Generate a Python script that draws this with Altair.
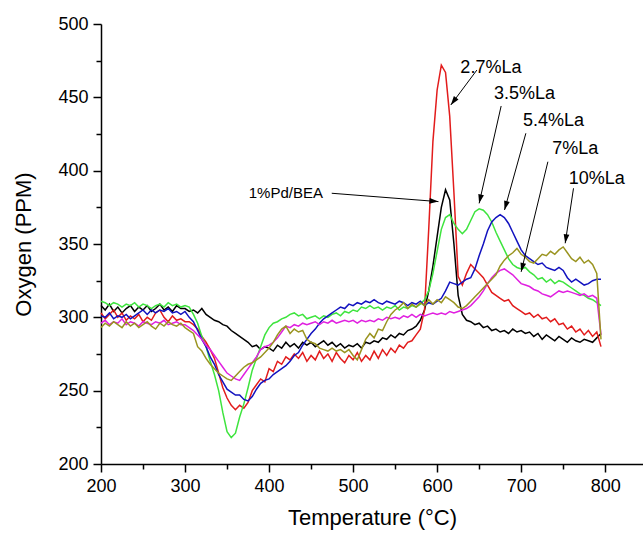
import math
import altair as alt
import pandas as pd

# Temperatures (°C), 5-degree steps from 200 to 795
T = list(range(200, 800, 5))

series = ["1%Pd/BEA", "2.7%La", "3.5%La", "5.4%La", "7%La", "10%La"]
colors = ["#000000", "#e21c1c", "#3ee43e", "#1212bf", "#e020e0", "#9a9420"]

black = [
    308, 305, 309, 304, 307, 303, 306, 308, 304, 307, 305, 308, 304, 306, 309, 305, 307, 304, 308, 306,
    306, 304, 305, 303, 306, 302, 300, 298, 297, 295, 294, 291, 289, 287, 285, 283, 280, 281, 278, 280,
    279, 277, 281, 279, 283, 280, 282, 279, 283, 281, 283, 280, 282, 284, 281, 283, 280, 282, 279, 281,
    280, 282, 279, 283, 282, 284, 283, 286, 285, 288, 286, 289, 288, 291, 292, 294, 298, 305, 318, 335,
    355, 375, 387, 380, 350, 315, 302, 298, 297, 295, 296, 293, 294, 291, 292, 290, 291, 289, 292, 290,
    291, 289, 290, 287, 289, 285, 288, 286, 284, 287, 285, 283, 286, 284, 283, 285, 284, 283, 286, 289]

red = [
    303, 299, 302, 305, 300, 303, 298, 301, 299, 302, 297, 300, 298, 303, 305, 300, 297, 301, 298, 299,
    297, 297, 295, 292, 287, 283, 278, 272, 262, 252, 245, 240, 237, 240, 238, 242, 250, 254, 258, 256,
    265, 263, 270, 268, 273, 271, 275, 272, 276, 270, 274, 271, 277, 272, 275, 270, 276, 272, 269, 274,
    271, 276, 270, 274, 271, 277, 272, 278, 274, 279, 276, 281, 279, 283, 284, 288, 292, 305, 360, 420,
    455, 472, 467, 437, 385, 328, 322, 330, 336, 333, 330, 327, 322, 317, 315, 313, 311, 312, 308, 306,
    304, 302, 303, 300, 302, 299, 300, 297, 299, 295, 296, 292, 294, 290, 292, 288, 291, 287, 290, 280]

green = [
    311, 310, 308, 310, 309, 307, 309, 308, 310, 307, 309, 308, 306, 308, 309, 307, 310, 308, 309, 307,
    308, 307, 302, 296, 287, 280, 270, 261, 250, 235, 222, 218, 221, 232, 241, 252, 264, 272, 280, 288,
    293, 296, 297, 299, 300, 302, 303, 301, 302, 299, 300, 301, 299, 301, 300, 302, 303, 301, 304, 303,
    305, 304, 307, 306, 308, 306, 307, 305, 307, 306, 308, 305, 307, 306, 308, 307, 309, 312, 318, 330,
    345, 360, 368, 370, 364, 360, 357, 360, 366, 372, 374, 373, 370, 365, 358, 352, 346, 340, 336, 334,
    333, 334, 331, 329, 326, 327, 324, 326, 323, 325, 324, 322, 320, 318, 316, 315, 313, 312, 310, 308]

blue = [
    301, 300, 303, 299, 301, 300, 302, 299, 301, 303, 305, 302, 305, 303, 305, 304, 306, 303, 304, 302,
    304, 300, 297, 291, 285, 280, 273, 268, 261, 256, 251, 249, 247, 247, 244, 243, 246, 251, 255, 257,
    258, 261, 263, 265, 267, 270, 274, 276, 281, 285, 289, 292, 296, 299, 301, 303, 305, 307, 306, 309,
    308, 310, 309, 311, 310, 312, 310, 309, 311, 310, 309, 311, 310, 308, 310, 309, 311, 308, 310, 309,
    311, 313, 318, 324, 323, 322, 324, 326, 327, 333, 342, 350, 359, 365, 368, 370, 368, 364, 358, 352,
    346, 342, 340, 338, 336, 337, 334, 333, 332, 334, 332, 327, 324, 326, 324, 322, 323, 325, 326, 326]

magenta = [
    296, 298, 295, 297, 296, 299, 295, 297, 296, 294, 297, 296, 295, 297, 296, 298, 295, 296, 297, 295,
    295, 293, 291, 288, 285, 281, 278, 274, 270, 266, 262, 260, 258, 257, 261, 265, 269, 273, 278, 280,
    281, 283, 286, 290, 294, 293, 295, 294, 296, 295, 296, 297, 295, 297, 296, 298, 296, 297, 298, 297,
    298, 296, 298, 297, 298, 297, 299, 298, 300, 299, 300, 299, 301, 300, 302, 300, 302, 301, 302, 303,
    302, 303, 302, 304, 303, 304, 305, 306, 308, 311, 314, 318, 323, 327, 330, 332, 333, 331, 329, 326,
    323, 322, 321, 319, 318, 316, 315, 314, 316, 318, 317, 318, 317, 316, 315, 316, 314, 315, 313, 288]

olive = [
    293, 296, 294, 297, 295, 293, 297, 294, 296, 293, 295, 297, 294, 292, 296, 294, 297, 295, 294, 296,
    293, 291, 289, 280, 277, 272, 268, 265, 262, 260, 258, 257, 260, 263, 266, 268, 269, 271, 273, 276,
    279, 283, 288, 292, 294, 289, 292, 290, 291, 285, 283, 282, 279, 278, 277, 279, 277, 278, 276, 278,
    274, 271, 278, 285, 289, 286, 292, 291, 297, 302, 305, 307, 310, 306, 309, 307, 310, 308, 312, 309,
    312, 310, 314, 312, 310, 307, 306, 308, 311, 314, 317, 320, 323, 326, 329, 335, 339, 342, 344, 347,
    343, 341, 338, 337, 340, 343, 342, 345, 343, 346, 348, 344, 340, 338, 341, 337, 339, 336, 330, 285]

# Annotation labels (data coordinates)
ann_text = ["1%Pd/BEA", "2.7%La", "3.5%La", "5.4%La", "7%La", "10%La"]
ann_tx = [420, 664, 704, 738.5, 764.5, 790]
ann_ty = [384.5, 470, 452, 434, 414.6, 394.3]
ann_fs = [15, 18, 18, 18, 18, 18]
arr_x1 = [474.6, 647.3, 676.2, 705.6, 731.8, 762.3]
arr_y1 = [384.6, 468.6, 444.1, 425.5, 406.1, 388.0]
arr_x2 = [601.6, 616.3, 650.0, 680.2, 700.0, 752.4]
arr_y2 = [378.9, 444.8, 377.7, 373.2, 331.0, 350.5]

XDOM = [200, 845]
YDOM = [200, 500]
W, H = 542, 440

values = [black, red, green, blue, magenta, olive]
rows = []
for name, vals in zip(series, values):
    for t, v in zip(T, vals):
        rows.append({"T": t, "O2": v, "series": name})
df = pd.DataFrame(rows)

sx = W / (XDOM[1] - XDOM[0])
sy = H / (YDOM[1] - YDOM[0])
angles = []
for a, b, c, d in zip(arr_x1, arr_y1, arr_x2, arr_y2):
    dx = (c - a) * sx
    dy = -(d - b) * sy
    angles.append((math.degrees(math.atan2(dx, -dy)) + 360) % 360)

ann = pd.DataFrame({"text": ann_text, "tx": ann_tx, "ty": ann_ty, "fs": ann_fs,
                    "x1": arr_x1, "y1": arr_y1, "x2": arr_x2, "y2": arr_y2, "ang": angles})

FONT = "Liberation Sans"
xs = alt.Scale(domain=XDOM, nice=False, zero=False)
ys = alt.Scale(domain=YDOM, nice=False, zero=False)

x_axis = alt.Axis(
    values=list(range(200, 801, 50)),
    labelExpr="datum.value % 100 == 0 ? datum.label : ''",
    title="Temperature (°C)", grid=False,
    domainColor="black", domainWidth=1.5, tickColor="black", tickWidth=1.5,
    tickSize={"condition": {"test": "datum.value % 100 == 0", "value": 8}, "value": 5},
    labelFont=FONT, labelFontSize=18, labelColor="black", labelPadding=5,
    labelFlush=False, labelOverlap=False,
    titleFont=FONT, titleFontSize=22, titleFontWeight="normal", titleColor="black",
    titlePadding=12)
y_axis = alt.Axis(
    values=list(range(200, 501, 25)),
    labelExpr="datum.value % 50 == 0 ? datum.label : ''",
    title="Oxygen (PPM)", grid=False,
    domainColor="black", domainWidth=1.5, tickColor="black", tickWidth=1.5,
    tickSize={"condition": {"test": "datum.value % 50 == 0", "value": 8}, "value": 5},
    labelFont=FONT, labelFontSize=18, labelColor="black", labelPadding=5,
    labelFlush=False, labelOverlap=False,
    titleFont=FONT, titleFontSize=22, titleFontWeight="normal", titleColor="black",
    titlePadding=22)

lines = alt.Chart(df).mark_line(strokeWidth=1.5).encode(
    x=alt.X("T:Q", scale=xs, axis=x_axis),
    y=alt.Y("O2:Q", scale=ys, axis=y_axis),
    color=alt.Color("series:N", scale=alt.Scale(domain=series, range=colors), legend=None),
)

rules = alt.Chart(ann).mark_rule(color="black", strokeWidth=1).encode(
    x=alt.X("x1:Q", scale=xs, axis=x_axis),
    y=alt.Y("y1:Q", scale=ys, axis=y_axis),
    x2="x2:Q", y2="y2:Q",
)

heads = alt.Chart(ann).mark_point(
    shape="M0,0L-0.32,1L0.32,1Z", filled=True, color="black", opacity=1, size=324, strokeWidth=0
).encode(
    x=alt.X("x2:Q", scale=xs, axis=x_axis),
    y=alt.Y("y2:Q", scale=ys, axis=y_axis),
    angle=alt.Angle("ang:Q", scale=None),
)

labels = alt.Chart(ann).mark_text(font=FONT, color="black", align="center", baseline="middle").encode(
    x=alt.X("tx:Q", scale=xs, axis=x_axis),
    y=alt.Y("ty:Q", scale=ys, axis=y_axis),
    text="text:N",
    size=alt.Size("fs:Q", scale=None),
)

chart = alt.layer(lines, rules, heads, labels).properties(
    width=W, height=H,
    padding={"left": 101, "top": 24, "right": 0, "bottom": 71},
    autosize=alt.AutoSizeParams(type="none"),
    background="white",
).configure_view(stroke=None)

chart.save("out.html", embed_options={"renderer": "svg", "actions": False})
